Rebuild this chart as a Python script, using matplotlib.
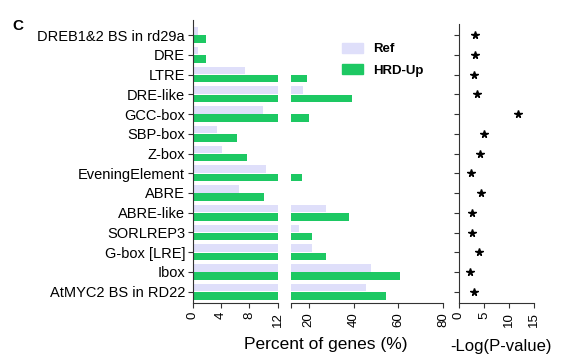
import numpy as np
import matplotlib
matplotlib.use("Agg")
import matplotlib.pyplot as plt
from matplotlib.patches import Patch

plt.rcParams["font.family"] = ["Liberation Sans", "DejaVu Sans"]

# data
motifs = ["DREB1&2 BS in rd29a", "DRE", "LTRE", "DRE-like", "GCC-box", "SBP-box",
          "Z-box", "EveningElement", "ABRE", "ABRE-like", "SORLREP3", "G-box [LRE]",
          "Ibox", "AtMYC2 BS in RD22"]
ref_pct = [0.7, 0.7, 7.4, 17.5, 9.9, 3.5, 4.2, 10.3, 6.6, 27.6, 15.9, 21.4, 47.6, 45.4]
hrd_pct = [1.9, 1.9, 19.4, 39.2, 20.3, 6.3, 7.7, 17.0, 10.1, 37.8, 21.5, 27.6, 60.6, 54.3]
neglogp = [3.1, 3.1, 2.9, 3.5, 11.7, 4.9, 4.2, 2.4, 4.3, 2.6, 2.5, 3.9, 2.2, 3.0]

ref_col = "#dfdffa"
hrd_col = "#1dc863"

y = np.arange(len(motifs))
h = 0.38
W, H = 573, 359

fig = plt.figure(figsize=(W / 100, H / 100), dpi=100)

def box(x0, x1, ytop, ybot):
    return [x0 / W, 1 - ybot / H, (x1 - x0) / W, (ybot - ytop) / H]

ax1 = fig.add_axes(box(192.7, 277.7, 20, 303))
ax2 = fig.add_axes(box(290.7, 443.3, 20, 303))
ax3 = fig.add_axes(box(459, 534.3, 24, 303))

for ax in (ax1, ax2):
    ax.barh(y - 0.21, ref_pct, height=h, color=ref_col, label="Ref")
    ax.barh(y + 0.21, hrd_pct, height=h, color=hrd_col, label="HRD-Up")

ax1.set_xlim(0, 12)
ax2.set_xlim(12, 80)
ax1.set_ylim(13.57, -0.76)
ax2.set_ylim(13.57, -0.76)

ax3.plot(neglogp, y, "*", color="black", markersize=5.5)
ax3.set_xlim(0, 15)
ax3.set_ylim(13.57, -0.56)

ax1.set_yticks(y)
ax1.set_yticklabels(motifs, fontsize=10.5)
ax1.set_xticks([0, 4, 8, 12])
ax2.set_yticks([])
ax2.set_xticks([12, 20, 40, 60, 80])
ax2.set_xticklabels(["", "20", "40", "60", "80"])
ax3.set_yticks(y)
ax3.set_yticklabels([])
ax3.set_xticks([0, 5, 10, 15])

for ax in (ax1, ax2, ax3):
    ax.spines["top"].set_visible(False)
    ax.spines["right"].set_visible(False)
    ax.spines["left"].set_color("#333333")
    ax.spines["bottom"].set_color("#333333")
    ax.tick_params(axis="x", labelrotation=90, labelsize=9.5, length=3.5,
                   color="#333333", pad=3)
    ax.tick_params(axis="y", length=3.5, color="#333333", pad=2)
ax2.spines["left"].set_visible(False)

fig.text(325.5 / W, 1 - 345 / H, "Percent of genes (%)", fontsize=12.5,
         ha="center", va="center")
fig.text(501 / W, 1 - 346 / H, "-Log(P-value)", fontsize=12,
         ha="center", va="center")
fig.text(12 / W, 1 - 26 / H, "C", fontsize=11, fontweight="bold",
         ha="left", va="center")

handles = [Patch(color=ref_col, label="Ref"), Patch(color=hrd_col, label="HRD-Up")]
fig.legend(handles=handles, loc="upper left", bbox_to_anchor=(341.7 / W, 1 - 42.5 / H),
           frameon=False, prop={"weight": "bold", "size": 9.5},
           borderaxespad=0, borderpad=0,
           handlelength=1.64, handleheight=0.8, labelspacing=0.7, handletextpad=0.71)

fig.savefig("out.png", dpi=100)
